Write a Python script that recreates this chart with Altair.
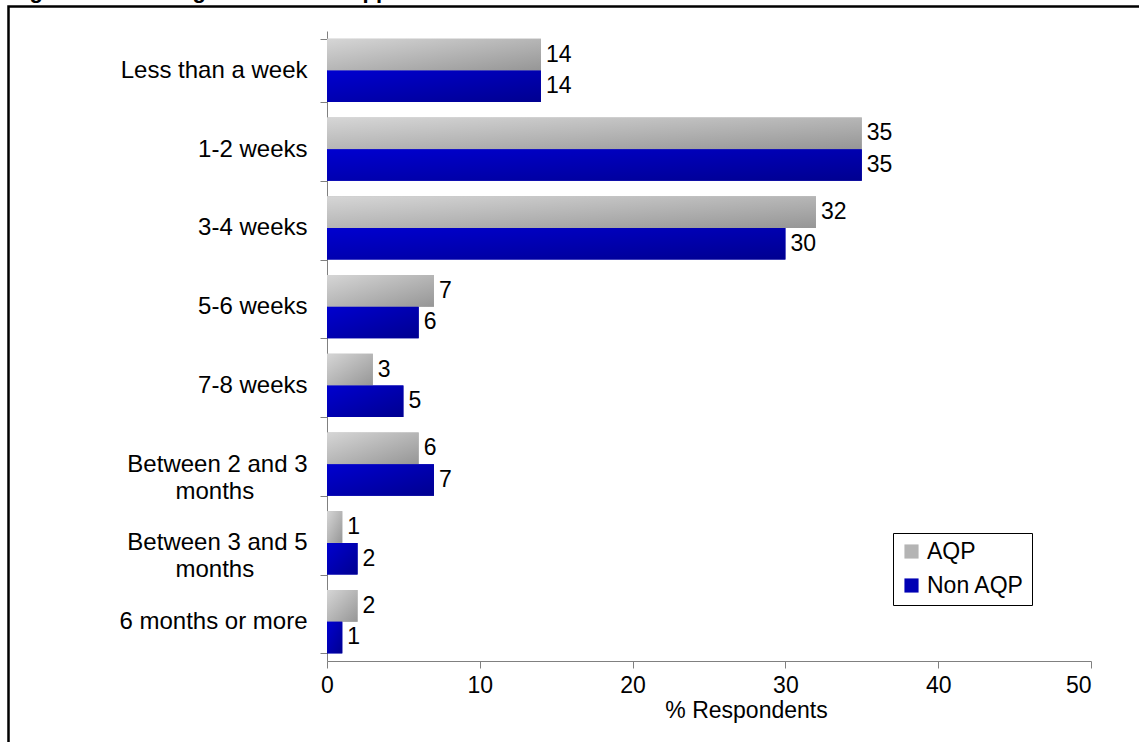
import altair as alt
import pandas as pd

categories = ["Less than a week", "1-2 weeks", "3-4 weeks", "5-6 weeks", "7-8 weeks",
              "Between 2 and 3 months", "Between 3 and 5 months", "6 months or more"]
series = ["AQP", "Non AQP"]
aqp = [14, 35, 32, 7, 3, 6, 1, 2]
non_aqp = [14, 35, 30, 6, 5, 7, 2, 1]
x_ticks = [0, 10, 20, 30, 40, 50]
title_text = "Figure 4.1: Waiting time before support"

rows = []
for c, a, n in zip(categories, aqp, non_aqp):
    rows.append({"category": c, "series": "AQP", "value": a})
    rows.append({"category": c, "series": "Non AQP", "value": n})
df = pd.DataFrame(rows)

FONT = "Liberation Sans"
PAD = "\u00a0" * 8 + "\u200b"
label_expr = (
    "datum.label == 'Between 2 and 3 months' ? ['Between 2 and 3', 'months" + PAD + "'] : "
    "datum.label == 'Between 3 and 5 months' ? ['Between 3 and 5', 'months" + PAD + "'] : datum.label"
)

y_enc = alt.Y("category:N", sort=categories, title=None,
              scale=alt.Scale(paddingInner=0.194, paddingOuter=0.097),
              axis=alt.Axis(labelExpr=label_expr, labelFont=FONT, labelFontSize=24,
                            labelColor="black", labelPadding=13, labelLineHeight=27,
                            labelLimit=0,
                            tickBand="extent", tickSize=7, tickColor="#808080",
                            domainColor="#808080", labelAlign="right"))
yoff = alt.YOffset("series:N", sort=series, scale=alt.Scale(paddingInner=0, paddingOuter=0))
x_enc = alt.X("value:Q", scale=alt.Scale(domain=[0, 50], nice=False),
              axis=alt.Axis(values=x_ticks, grid=False, title="% Respondents",
                            labelFont=FONT, labelFontSize=23, labelColor="black",
                            labelFlush=False,
                            labelAlign={"condition": {"test": "datum.value == 50", "value": "right"},
                                        "value": "center"},
                            labelPadding=6, tickSize=7, tickColor="#808080",
                            domainColor="#808080", titleFont=FONT, titleFontSize=23,
                            titleFontWeight="normal", titleColor="black",
                            titlePadding=2, titleX=419, titleAlign="center"))

base = alt.Chart(df)

solid = base.mark_bar().encode(
    y=y_enc, yOffset=yoff, x=x_enc,
    color=alt.Color("series:N", sort=series,
                    scale=alt.Scale(domain=series, range=["#b4b4b4", "#0000b4"]),
                    legend=alt.Legend(title=None, orient="none", legendX=566, legendY=502,
                                      labelFont=FONT, labelFontSize=23, labelColor="black",
                                      symbolType="square", symbolSize=200,
                                      symbolStrokeWidth=0, labelOffset=4, rowPadding=10,
                                      padding=7, strokeColor="black", fillColor="white",
                                      cornerRadius=0)),
)

gray_grad = alt.LinearGradient(gradient="linear", x1=0, y1=0, x2=1, y2=1,
                               stops=[alt.GradientStop(offset=0, color="#d6d6d6"),
                                      alt.GradientStop(offset=1, color="#969696")])
blue_grad = alt.LinearGradient(gradient="linear", x1=0, y1=0, x2=1, y2=1,
                               stops=[alt.GradientStop(offset=0, color="#0000d0"),
                                      alt.GradientStop(offset=1, color="#000090")])

g_aqp = base.transform_filter(alt.datum.series == "AQP").mark_bar(color=gray_grad).encode(
    y=alt.Y("category:N", sort=categories), yOffset=yoff, x="value:Q")
g_non = base.transform_filter(alt.datum.series == "Non AQP").mark_bar(color=blue_grad).encode(
    y=alt.Y("category:N", sort=categories), yOffset=yoff, x="value:Q")

labels = base.mark_text(align="left", baseline="middle", dx=5, font=FONT, fontSize=23,
                        color="black").encode(
    y=alt.Y("category:N", sort=categories), yOffset=yoff, x="value:Q",
    text="value:Q")

one = pd.DataFrame({"t": [title_text]})
frame = alt.Chart(one).mark_rect(filled=False, stroke="black", strokeWidth=2.5).encode(
    x=alt.value(-318.5), x2=alt.value(900), y=alt.value(-24.5), y2=alt.value(800))
title = alt.Chart(one).mark_text(align="left", baseline="alphabetic", font=FONT,
                                 fontSize=22, fontWeight="bold", color="black").encode(
    x=alt.value(-317), y=alt.value(-33), text="t:N")

chart = alt.layer(frame, solid, g_aqp, g_non, labels, title).properties(
    width=764, height=630,
    autosize=alt.AutoSizeParams(type="none"),
    padding={"left": 327, "top": 31, "right": 48, "bottom": 81},
).configure(font=FONT, view=alt.ViewConfig(stroke=None))

chart.save("out.html", embed_options={"renderer": "svg", "actions": False})
